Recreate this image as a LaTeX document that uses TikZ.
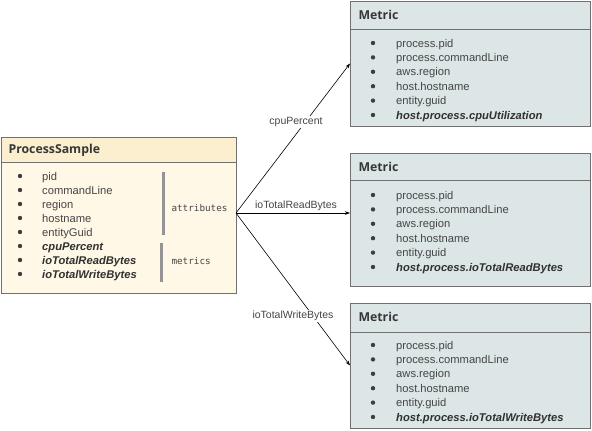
\documentclass[tikz,border=0pt]{standalone}
\usepackage{fontspec}
\setmainfont{Liberation Sans}
\newfontfamily\headfont{Open Sans}
\setmonofont{DejaVu Sans Mono}
\usepackage{tikz}
\usetikzlibrary{arrows.meta}
\definecolor{sampletop}{HTML}{FCEFCF}
\definecolor{samplebody}{HTML}{FFF8E6}
\definecolor{metricfill}{HTML}{DCE6E6}
\definecolor{frame}{HTML}{707070}
\definecolor{ink}{HTML}{454545}

\begin{document}
\begin{tikzpicture}[x=1pt, y=-1pt, font=\fontsize{11.2}{13}\selectfont,
  box/.style={draw=frame, line width=0.9pt, anchor=north west, inner sep=0pt, outer sep=0pt, minimum width=#1},
  head/.style={anchor=west, font=\headfont\bfseries\fontsize{12.3}{14}\selectfont, text=ink!80!black},
  dot/.style={circle, fill=ink!90!black, inner sep=0pt, minimum size=4.4pt},
  item/.style={anchor=base west, text=ink, inner sep=0pt},
  keyitem/.style={item, font=\fontsize{11.2}{13}\selectfont\bfseries\itshape, text=ink!70!black},
  tag/.style={anchor=west, font=\ttfamily\fontsize{9.3}{11}\selectfont, text=ink},
  bar/.style={draw=black!42, line width=3pt},
  link/.style={-{Stealth[length=5pt, width=3.5pt]}, line width=0.6pt},
  linklabel/.style={fill=white, inner sep=1pt, text=ink, font=\fontsize{10.5}{12}\selectfont}]
  \useasboundingbox (0,0) rectangle (592,431);

  \node[box=235pt, minimum height=156pt, fill=samplebody] (sample) at (1,137) {};
  \fill[sampletop] (1.45,137.45) rectangle (235.55,162);
  \draw[frame, line width=0.9pt] (sample.north west) rectangle (sample.south east);
  \draw[frame, line width=0.9pt] (1,162) -- (236,162);
  \node[head] (sampletitle) at (5,150) {ProcessSample};
  \foreach \t [count=\i from 0] in {pid,commandLine,region,hostname,entityGuid} {
    \node[dot] (sdot\i) at (20,176+14*\i) {};
    \node[item] (sattr\i) at (42,180+14*\i) {\t};
  }
  \foreach \t [count=\i from 5] in {cpuPercent,ioTotalReadBytes,ioTotalWriteBytes} {
    \node[dot] (sdot\i) at (20,176+14*\i) {};
    \node[keyitem] (smetric\i) at (42,180+14*\i) {\t};
  }
  \draw[bar] (163,172) -- (163,235);
  \draw[bar] (161,243) -- (161,282);
  \node[tag] (attrtag) at (168,208) {attributes};
  \node[tag] (metrictag) at (168,261) {metrics};

  \foreach \n/\top/\h/\hh/\last in {1/1/125/28/cpuUtilization, 2/153/133/27/ioTotalReadBytes, 3/303/125/29/ioTotalWriteBytes} {
    \node[box=240pt, minimum height=\h pt, fill=metricfill] (metric\n) at (350,\top) {};
    \draw[frame, line width=0.9pt] (350,\top+\hh) -- (590,\top+\hh);
    \node[head] (metrictitle\n) at (355,\top+13.5) {Metric};
    \foreach \t [count=\i from 0] in {process.pid,process.commandLine,aws.region,host.hostname,entity.guid} {
      \node[dot] (mdot\n\i) at (373,\top+42+14.4*\i) {};
      \node[item] (mitem\n\i) at (396,\top+46+14.4*\i) {\t};
    }
    \node[dot] (mdot\n5) at (373,\top+42+14.4*5) {};
    \node[keyitem] (mkey\n) at (396,\top+46+14.4*5) {host.process.\last};
  }

  \coordinate (fork) at (236,213);
  \draw[link] (fork) -- (metric1.west);
  \draw[link] (fork) -- (fork -| metric2.west);
  \draw[link] (fork) -- (metric3.west);
  \node[linklabel] (cpulabel) at (296,122) {cpuPercent};
  \node[linklabel, inner sep=0.5pt] (readlabel) at (296,206) {ioTotalReadBytes};
  \node[linklabel] (writelabel) at (293,316) {ioTotalWriteBytes};
\end{tikzpicture}
\end{document}
